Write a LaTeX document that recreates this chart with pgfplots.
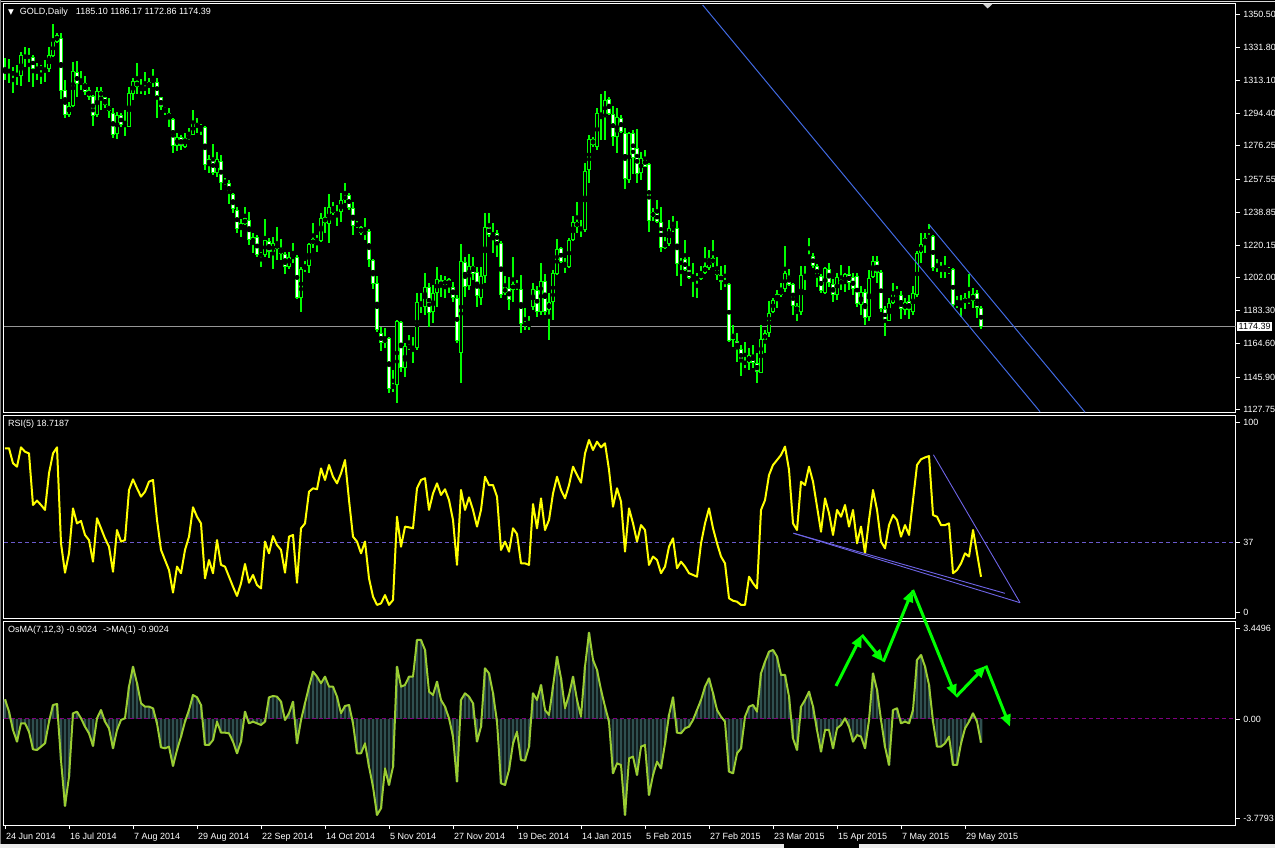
\documentclass[border=0pt]{standalone}
\usepackage{fontspec}
\setmainfont{Liberation Sans}
\newfontfamily\dejavu{DejaVu Sans}
\usepackage{pgfplots}
\pgfplotsset{compat=1.18}
\usepackage{pgfplotstable}
\usetikzlibrary{arrows.meta}

\definecolor{candle}{RGB}{0,255,0}
\definecolor{rsiyel}{RGB}{255,255,0}
\definecolor{lvl}{RGB}{106,90,205}
\definecolor{rsitrend}{RGB}{110,100,230}
\definecolor{osbar}{RGB}{47,79,79}
\definecolor{osline}{RGB}{154,205,50}
\definecolor{zeroline}{RGB}{128,0,128}
\definecolor{trend}{RGB}{65,105,225}
\definecolor{pline}{RGB}{150,150,150}
\newcommand\mtfont{\fontsize{9}{10.8}\selectfont}

% bar index, OHLC, RSI(5), OsMA(7,12,3)
\pgfplotstableread{
i o h l c rsi osma
0 1317.5 1325.5 1313.3 1318.4 86.5 0.748
1 1319.0 1325.0 1311.4 1318.0 86.5 0.278
2 1318.0 1320.8 1305.8 1316.1 78.6 -0.419
3 1315.8 1321.8 1310.5 1316.7 76.8 -0.863
4 1315.6 1329.3 1309.9 1327.4 87.0 -0.166
5 1326.9 1332.1 1320.8 1325.9 84.7 -0.166
6 1326.6 1331.2 1312.4 1326.0 83.8 -0.483
7 1326.5 1327.4 1309.2 1319.3 56.6 -1.155
8 1319.0 1322.7 1313.3 1320.3 58.9 -1.181
9 1320.5 1321.8 1310.9 1319.5 56.6 -1.054
10 1318.8 1324.6 1312.4 1319.7 54.0 -0.927
11 1319.3 1332.1 1318.0 1327.4 73.3 -0.102
12 1326.8 1344.9 1326.5 1335.5 83.8 0.532
13 1334.9 1339.6 1334.0 1338.7 87.0 0.570
14 1337.2 1339.6 1302.8 1307.1 36.4 -1.561
15 1307.7 1313.3 1291.7 1293.6 20.9 -3.310
16 1293.6 1301.1 1292.7 1298.9 31.1 -2.195
17 1298.9 1323.7 1298.3 1318.6 54.8 0.215
18 1317.6 1324.2 1303.9 1310.9 46.9 0.278
19 1312.4 1318.4 1307.7 1310.9 48.2 0.025
20 1311.4 1315.6 1304.9 1306.6 40.8 -0.293
21 1307.7 1309.2 1302.1 1303.9 38.1 -0.546
22 1304.3 1304.9 1287.6 1293.2 26.7 -1.028
23 1293.6 1309.2 1292.7 1307.1 49.6 0.025
24 1307.3 1309.2 1296.4 1303.9 44.3 0.341
25 1303.6 1303.9 1297.4 1299.2 39.0 -0.102
26 1298.7 1303.4 1291.7 1295.9 34.6 -0.356
27 1294.5 1297.4 1280.5 1282.3 21.4 -1.117
28 1282.9 1295.5 1279.9 1293.6 43.4 -0.419
29 1293.6 1294.5 1287.0 1288.0 37.3 -0.039
30 1288.3 1296.4 1282.0 1287.4 38.1 0.025
31 1287.0 1309.2 1286.7 1305.8 64.5 1.229
32 1305.3 1314.6 1302.1 1312.8 70.1 1.990
33 1312.8 1323.1 1305.4 1309.2 65.4 1.356
34 1308.6 1313.7 1305.3 1307.7 61.0 0.595
35 1307.7 1318.0 1304.9 1309.2 63.6 0.468
36 1309.2 1314.6 1305.4 1312.4 68.9 0.468
37 1312.2 1319.5 1309.6 1313.3 69.8 0.405
38 1312.4 1314.6 1292.1 1304.5 48.7 -0.166
39 1303.6 1303.9 1296.4 1297.9 32.9 -1.079
40 1297.4 1298.3 1293.6 1295.9 27.6 -1.117
41 1294.9 1297.4 1287.0 1291.7 22.3 -1.054
42 1291.4 1291.7 1272.4 1276.3 10.4 -1.789
43 1276.3 1283.3 1273.5 1281.0 24.1 -1.181
44 1281.0 1282.3 1273.9 1276.3 20.6 -0.673
45 1275.8 1283.6 1274.8 1280.5 32.9 -0.102
46 1279.9 1286.5 1279.5 1282.3 39.9 0.341
47 1282.3 1296.4 1282.3 1289.5 55.4 0.912
48 1288.9 1291.7 1283.3 1287.0 50.4 0.824
49 1287.4 1288.5 1282.3 1286.1 46.9 0.532
50 1287.0 1287.4 1262.6 1265.4 17.9 -0.990
51 1265.4 1271.1 1260.7 1268.8 27.6 -0.990
52 1269.2 1277.3 1259.8 1261.1 20.6 -0.800
53 1260.7 1273.0 1258.9 1268.8 38.1 -0.102
54 1267.9 1271.1 1251.3 1255.1 25.0 -0.521
55 1256.1 1257.9 1254.2 1255.1 24.1 -0.521
56 1255.1 1257.0 1243.5 1249.5 18.8 -0.546
57 1249.1 1249.8 1238.2 1240.5 13.5 -0.863
58 1240.1 1242.0 1226.9 1229.2 8.6 -1.307
59 1229.2 1234.8 1225.0 1232.6 15.3 -0.863
60 1232.0 1242.0 1231.6 1235.4 25.5 0.278
61 1234.5 1239.1 1220.4 1223.2 15.6 -0.166
62 1221.3 1227.3 1215.7 1224.7 19.7 -0.102
63 1224.7 1226.0 1213.8 1214.7 14.4 -0.166
64 1215.1 1216.6 1207.8 1214.4 12.6 -0.229
65 1214.7 1234.8 1213.8 1223.2 37.3 -0.102
66 1222.6 1224.1 1212.8 1216.6 31.1 0.824
67 1216.2 1224.7 1206.6 1221.3 40.2 0.874
68 1221.3 1230.7 1211.9 1217.9 35.5 0.849
69 1218.5 1223.6 1211.9 1215.1 32.9 0.659
70 1215.3 1216.6 1203.8 1207.8 20.9 -0.039
71 1208.2 1216.2 1206.6 1213.8 39.9 0.215
72 1214.2 1221.7 1210.0 1212.9 40.8 0.659
73 1213.4 1214.7 1189.7 1190.7 15.6 -0.927
74 1190.3 1208.2 1182.8 1206.6 44.3 -0.039
75 1207.0 1211.4 1205.3 1208.2 46.9 0.595
76 1208.7 1221.7 1204.4 1220.7 63.6 1.229
77 1220.7 1232.9 1218.5 1223.6 65.4 1.800
78 1223.6 1226.0 1216.6 1222.8 64.9 1.610
79 1222.6 1238.2 1222.3 1235.4 75.9 1.356
80 1232.6 1241.6 1226.9 1236.3 69.8 1.610
81 1232.2 1248.9 1221.3 1241.6 77.7 1.229
82 1241.0 1244.8 1237.3 1238.6 71.5 1.229
83 1238.6 1242.9 1231.1 1237.8 68.0 0.849
84 1238.8 1249.5 1233.5 1245.7 73.3 0.215
85 1245.7 1255.5 1243.8 1248.2 80.3 0.494
86 1248.5 1249.5 1240.1 1241.0 59.2 0.532
87 1241.0 1244.4 1226.0 1231.3 39.9 -0.166
88 1232.6 1233.9 1229.8 1230.7 37.3 -1.307
89 1230.3 1231.1 1226.0 1226.9 31.1 -1.307
90 1226.0 1235.4 1223.2 1228.2 37.3 -0.927
91 1228.2 1229.2 1208.2 1211.9 17.9 -1.815
92 1211.9 1212.3 1195.4 1198.2 8.3 -2.576
93 1198.8 1202.9 1171.5 1172.5 3.9 -3.654
94 1170.6 1174.4 1160.8 1165.0 4.7 -3.400
95 1165.0 1173.4 1162.1 1167.8 9.1 -1.878
96 1167.8 1168.3 1137.2 1139.2 3.9 -2.512
97 1139.6 1149.9 1137.7 1141.5 6.5 -1.815
98 1141.5 1178.1 1131.2 1177.5 50.4 1.990
99 1177.2 1177.7 1149.0 1150.9 34.6 1.229
100 1150.9 1165.0 1146.2 1163.4 45.2 1.293
101 1163.4 1169.7 1161.2 1162.5 44.8 1.610
102 1162.0 1168.7 1153.7 1162.9 44.3 1.610
103 1162.1 1193.1 1161.2 1188.4 65.4 3.005
104 1187.1 1193.1 1181.9 1186.0 69.8 3.005
105 1185.6 1204.4 1180.9 1196.5 70.7 2.625
106 1196.5 1198.8 1174.4 1181.9 54.0 1.039
107 1182.8 1197.8 1176.2 1193.1 62.7 0.912
108 1193.5 1208.2 1185.6 1201.0 68.0 1.420
109 1200.6 1203.5 1191.3 1196.5 61.9 0.722
110 1197.8 1202.9 1190.3 1200.6 64.9 0.468
111 1201.0 1202.0 1193.1 1197.3 59.2 0.024
112 1196.5 1199.7 1188.4 1190.3 48.7 -0.673
113 1190.3 1192.2 1165.0 1166.5 25.0 -2.386
114 1159.3 1220.9 1142.4 1211.5 64.5 0.722
115 1211.0 1213.4 1191.3 1196.9 54.0 0.976
116 1197.5 1215.3 1195.0 1208.7 60.6 0.849
117 1208.7 1213.8 1200.6 1204.0 54.0 0.595
118 1205.3 1208.2 1185.6 1191.6 45.2 -0.863
119 1190.3 1208.2 1186.6 1203.1 54.0 -0.293
120 1203.1 1238.2 1198.8 1230.7 71.5 1.927
121 1230.7 1238.2 1224.7 1226.0 67.1 1.737
122 1226.9 1232.6 1215.7 1225.6 67.1 0.976
123 1226.9 1228.8 1213.8 1222.2 61.0 -0.102
124 1221.7 1222.3 1190.3 1192.2 32.9 -2.449
125 1193.1 1202.9 1192.2 1196.5 37.3 -2.512
126 1195.9 1202.5 1183.7 1189.4 32.0 -1.941
127 1195.0 1213.4 1188.4 1198.4 44.3 -0.927
128 1198.2 1200.6 1195.0 1195.9 41.3 -0.483
129 1195.4 1203.5 1170.6 1175.9 25.8 -1.561
130 1176.2 1184.7 1172.5 1175.3 25.8 -1.586
131 1174.4 1180.4 1172.5 1176.2 25.0 -1.054
132 1185.3 1199.1 1183.7 1195.4 57.1 0.976
133 1195.0 1197.3 1180.0 1182.4 44.3 0.722
134 1182.8 1210.4 1180.9 1200.1 60.1 1.293
135 1200.1 1203.8 1180.9 1182.4 43.4 0.341
136 1183.7 1193.1 1166.8 1188.1 48.7 0.151
137 1188.1 1206.3 1178.1 1204.4 62.7 1.229
138 1204.0 1223.6 1203.5 1217.9 71.5 2.371
139 1218.5 1219.4 1210.0 1210.6 64.5 1.546
140 1208.7 1212.9 1204.4 1210.6 60.1 0.405
141 1208.2 1224.1 1207.2 1223.2 67.1 0.912
142 1223.2 1236.7 1222.8 1233.1 76.8 1.610
143 1233.1 1244.8 1226.9 1230.7 72.4 0.722
144 1230.1 1234.5 1224.7 1228.4 68.4 0.088
145 1228.8 1266.4 1227.9 1262.2 83.8 1.990
146 1262.6 1282.3 1255.1 1279.9 90.9 3.284
147 1279.9 1281.4 1275.8 1276.7 85.6 2.244
148 1275.8 1297.4 1273.9 1294.9 90.0 1.864
149 1294.5 1305.4 1279.5 1293.0 87.0 1.103
150 1292.7 1307.3 1279.5 1302.1 89.1 0.468
151 1302.4 1303.9 1293.6 1294.0 75.1 -0.102
152 1294.2 1298.7 1276.1 1281.0 55.7 -2.068
153 1281.0 1297.4 1272.0 1292.3 65.4 -1.688
154 1291.7 1293.6 1283.3 1284.2 58.4 -1.751
155 1283.3 1286.1 1251.7 1257.4 32.0 -3.654
156 1257.0 1284.2 1255.5 1283.3 54.8 -1.497
157 1283.3 1285.2 1260.4 1269.2 46.9 -1.434
158 1274.8 1285.5 1255.5 1260.2 37.3 -2.132
159 1260.7 1273.0 1257.0 1269.2 46.0 -1.054
160 1269.2 1273.9 1264.1 1264.5 43.4 -0.990
161 1265.8 1266.4 1227.9 1234.1 25.0 -2.893
162 1236.3 1241.0 1233.9 1238.8 29.4 -2.132
163 1238.6 1245.7 1232.9 1233.5 27.6 -1.624
164 1233.5 1242.0 1216.6 1218.5 20.6 -1.878
165 1218.5 1224.7 1217.9 1221.9 24.1 -0.927
166 1220.9 1234.5 1219.8 1229.8 34.6 0.151
167 1230.7 1236.7 1227.9 1228.8 39.0 0.824
168 1230.1 1234.1 1203.1 1209.6 23.2 -0.521
169 1211.4 1212.9 1197.3 1209.1 26.7 -0.546
170 1212.3 1223.2 1205.9 1206.3 24.1 -0.356
171 1206.6 1213.4 1201.0 1201.6 20.6 -0.293
172 1201.6 1210.0 1191.3 1203.5 19.7 -0.039
173 1202.5 1204.4 1190.3 1200.6 18.8 0.341
174 1201.0 1208.5 1200.6 1204.8 36.4 0.722
175 1204.4 1219.4 1204.0 1208.7 46.9 1.229
176 1207.2 1217.5 1206.3 1212.9 54.8 1.546
177 1212.9 1223.2 1208.2 1210.0 44.3 0.976
178 1206.3 1213.8 1200.6 1203.5 36.4 0.341
179 1203.5 1208.5 1195.0 1199.7 29.4 0.088
180 1200.1 1209.1 1196.9 1198.8 25.8 -0.102
181 1198.4 1199.1 1165.9 1166.5 7.4 -2.005
182 1166.8 1175.3 1163.1 1170.2 6.1 -2.068
183 1166.5 1170.6 1154.6 1161.6 5.6 -1.307
184 1161.6 1164.0 1146.6 1154.6 3.9 -1.117
185 1154.6 1165.9 1150.9 1153.3 3.9 0.088
186 1153.7 1162.1 1149.9 1158.4 18.8 0.468
187 1158.4 1164.0 1150.9 1154.1 15.3 0.532
188 1154.1 1159.3 1142.4 1149.0 12.6 0.278
189 1148.4 1175.3 1148.1 1167.2 54.0 1.737
190 1166.8 1172.5 1159.3 1170.6 59.2 2.181
191 1170.6 1189.0 1168.7 1182.2 72.4 2.561
192 1182.8 1190.3 1181.9 1189.4 77.7 2.625
193 1189.4 1195.0 1184.7 1192.6 80.3 2.371
194 1192.2 1199.1 1191.3 1195.0 83.0 1.673
195 1195.4 1219.8 1194.1 1204.4 87.4 1.673
196 1203.1 1206.6 1197.3 1197.8 75.1 0.849
197 1198.4 1199.1 1180.9 1186.0 46.9 -0.737
198 1182.8 1187.5 1177.7 1186.0 43.4 -1.181
199 1182.8 1208.5 1180.9 1203.5 68.9 0.468
200 1202.5 1208.5 1195.0 1203.5 67.1 0.722
201 1214.4 1224.1 1212.8 1213.4 76.8 1.039
202 1214.2 1215.7 1207.2 1208.7 68.9 0.468
203 1208.7 1209.7 1196.5 1202.1 55.7 -0.419
204 1203.1 1204.0 1193.1 1194.6 42.5 -1.244
205 1193.5 1208.2 1192.8 1207.2 60.1 -0.419
206 1206.6 1210.0 1196.9 1198.8 52.2 -0.419
207 1198.4 1201.0 1188.4 1192.2 40.8 -1.117
208 1192.2 1204.4 1189.4 1202.1 54.0 -0.356
209 1200.6 1209.1 1195.0 1198.2 50.4 -0.229
210 1198.8 1204.8 1194.1 1203.8 56.6 0.024
211 1204.0 1208.7 1195.0 1198.8 45.2 -0.293
212 1202.5 1204.8 1192.2 1195.4 54.0 -0.863
213 1202.9 1204.4 1185.6 1186.9 36.4 -0.610
214 1186.6 1197.5 1180.9 1193.7 45.2 -0.673
215 1193.7 1195.4 1175.3 1179.0 31.1 -1.117
216 1180.0 1206.3 1177.7 1201.6 48.7 -0.039
217 1202.2 1214.2 1201.6 1211.5 64.5 1.737
218 1211.5 1214.2 1198.8 1204.4 54.0 1.103
219 1204.9 1206.3 1182.8 1184.1 37.3 -0.039
220 1184.1 1186.0 1169.1 1177.7 33.7 -1.054
221 1177.7 1190.3 1177.5 1187.5 46.0 -1.751
222 1187.5 1199.1 1187.1 1192.8 51.3 0.341
223 1192.8 1197.3 1191.3 1191.8 48.7 0.405
224 1192.0 1194.6 1178.5 1184.1 39.9 -0.166
225 1183.7 1190.3 1180.9 1188.4 46.0 -0.102
226 1188.8 1192.2 1178.7 1183.7 40.8 -0.166
227 1182.8 1197.3 1180.9 1193.5 59.2 0.341
228 1192.2 1217.2 1191.3 1215.7 77.7 2.244
229 1215.7 1226.9 1210.0 1220.7 80.7 2.434
230 1221.3 1226.9 1215.7 1224.1 81.7 1.990
231 1224.5 1232.2 1224.1 1225.4 82.4 1.293
232 1225.4 1226.0 1205.9 1207.2 51.3 -0.102
233 1209.1 1212.3 1205.3 1207.8 50.4 -1.054
234 1208.5 1211.0 1201.6 1206.3 46.0 -1.054
235 1205.9 1214.2 1201.6 1206.6 46.0 -0.927
236 1206.6 1208.2 1204.0 1205.3 46.9 -0.673
237 1206.6 1207.2 1185.6 1186.6 20.6 -1.751
238 1186.6 1191.6 1184.7 1187.5 22.3 -1.751
239 1188.4 1192.2 1180.0 1187.5 25.8 -0.927
240 1187.5 1193.5 1184.1 1190.3 31.1 -0.356
241 1189.4 1204.0 1187.1 1188.8 29.4 -0.102
242 1189.0 1195.9 1184.7 1192.8 43.4 0.215
243 1193.1 1195.0 1179.0 1184.7 31.1 -0.102
244 1185.10 1186.17 1172.86 1174.39 18.72 -0.9024
}\gold

\pgfplotsset{
  mt4/.style={
    scale only axis, anchor=north west, width=1231.7pt,
    xmin=-0.25, xmax=307.675,
    axis line style={white, line width=1pt},
    xtick=\empty, ytick pos=right, tick align=outside,
    major tick length=4pt, tick style={white, line width=0.8pt},
    yticklabel style={font=\mtfont, text=white},
    xticklabel style={font=\mtfont, text=white},
  },
  ebar/.style 2 args={only marks, mark=none, forget plot,
    error bars/.cd, y dir=both, y explicit, error mark=none,
    error bar style={draw=#1, line width=#2}},
}

\begin{document}
\begin{tikzpicture}
\useasboundingbox (0,0) rectangle (1275pt,848pt);
\fill[black] (0,0) rectangle (1275pt,848pt);
\draw[white!85!black, line width=1pt] (0,846.7pt) -- (1275pt,846.7pt);
\draw[gray, line width=1pt] (0.5pt,0) -- (0.5pt,848pt);
\fill[white!92!black] (0,0) rectangle (784pt,4pt);
\fill[white!92!black] (859pt,0) rectangle (1275pt,4pt);

% price panel
\begin{axis}[mt4, at={(4pt,844.2pt)}, height=408.8pt,
  ymin=1125.89, ymax=1356.25,
  ytick={1127.75,1145.90,1164.60,1183.30,1202.00,1220.15,1238.85,1257.55,1276.25,1294.40,1313.10,1331.80,1350.50},
  yticklabels={1127.75,1145.90,1164.60,1183.30,1202.00,1220.15,1238.85,1257.55,1276.25,1294.40,1313.10,1331.80,1350.50}]
\addplot[pline, line width=1pt] coordinates {(-0.25,1174.39) (307.675,1174.39)};
% wicks
\addplot[ebar={candle}{1.2pt}] table[x=i, y expr={(\thisrow{h}+\thisrow{l})/2}, y error expr={(\thisrow{h}-\thisrow{l})/2}] {\gold};
% bodies
\addplot[ebar={candle}{3.4pt}] table[x=i, y expr={(\thisrow{o}+\thisrow{c})/2}, y error expr={max(abs(\thisrow{o}-\thisrow{c})/2,0.3)}] {\gold};
% bull: hollow, bear: white
\addplot[ebar={black}{1.3pt}] table[x=i, y expr={(\thisrow{c}-\thisrow{o}>1.2) ? (\thisrow{o}+\thisrow{c})/2 : nan}, y error expr={abs(\thisrow{o}-\thisrow{c})/2-0.56}] {\gold};
\addplot[ebar={white}{1.3pt}] table[x=i, y expr={(\thisrow{o}-\thisrow{c}>1.2) ? (\thisrow{o}+\thisrow{c})/2 : nan}, y error expr={abs(\thisrow{o}-\thisrow{c})/2-0.56}] {\gold};
% channel
\addplot[trend, line width=1pt] coordinates {(174.4,1355.6) (258.75,1126.4)};
\addplot[trend, line width=1pt] coordinates {(231.1,1231.6) (270,1126.1)};
\end{axis}

% RSI panel
\begin{axis}[mt4, at={(4pt,432.8pt)}, height=203.8pt,
  ymin=-3.53, ymax=103.96, ytick={0,37,100}, yticklabels={0,37,100}]
\addplot[lvl, line width=1pt, dash pattern=on 4pt off 3pt] coordinates {(-0.25,37) (307.675,37)};
\addplot[rsiyel, line width=2pt, line join=round] table[x=i, y=rsi] {\gold};
\addplot[rsitrend, line width=0.9pt] coordinates {(197.1,41.7) (250,10.0)};
\addplot[rsitrend, line width=0.9pt] coordinates {(197.1,41.7) (253.75,5.06)};
\addplot[rsitrend, line width=0.9pt] coordinates {(232.1,83.1) (253.75,5.06)};
\end{axis}

% OsMA panel
\begin{axis}[mt4, at={(4pt,226.3pt)}, height=203.5pt, clip=false,
  ymin=-4.042, ymax=3.701, ytick={-3.7793,0,3.4496}, yticklabels={-3.7793,0.00,3.4496},
  xtick={0,16,...,240}, xtick pos=bottom,
  xticklabels={24 Jun 2014,16 Jul 2014,7 Aug 2014,29 Aug 2014,22 Sep 2014,14 Oct 2014,5 Nov 2014,27 Nov 2014,19 Dec 2014,14 Jan 2015,5 Feb 2015,27 Feb 2015,23 Mar 2015,15 Apr 2015,7 May 2015,29 May 2015},
  xticklabel style={anchor=north west, xshift=-2.5pt}]
\addplot[ybar, bar width=2.8pt, fill=osbar, draw=none, forget plot] table[x=i, y=osma] {\gold};
\addplot[zeroline, line width=1pt, dash pattern=on 4pt off 3pt] coordinates {(-0.25,0) (307.675,0)};
\addplot[osline, line width=2pt, line join=round] table[x=i, y=osma] {\gold};
\begin{scope}[candle, line width=3pt, -{Triangle[length=12pt,width=10pt]}]
\draw (axis cs:207.75,1.254) -- (axis cs:214.2,3.195);
\draw (axis cs:214.2,3.195) -- (axis cs:219.6,2.179);
\draw (axis cs:219.6,2.179) -- (axis cs:226.9,4.907);
\draw (axis cs:226.9,4.907) -- (axis cs:237.75,0.847);
\draw (axis cs:237.75,0.847) -- (axis cs:245.2,2.027);
\draw (axis cs:245.2,2.027) -- (axis cs:251.25,-0.295);
\end{scope}
\end{axis}

% panel captions
\node[anchor=west, text=white, font=\mtfont, inner sep=0pt] at (8pt,836.3pt)
  {{\dejavu\fontsize{7.5}{8}\selectfont ▼}\hspace{6pt}GOLD,Daily\hspace{8pt}1185.10 1186.17 1172.86 1174.39};
\node[anchor=west, text=white, font=\mtfont, inner sep=0pt] at (8pt,423.7pt) {RSI(5) 18.7187};
\node[anchor=west, text=white, font=\mtfont, inner sep=0pt] at (8pt,217.7pt) {OsMA(7,12,3) -0.9024\hspace{6pt}->MA(1) -0.9024};
\node[anchor=west, fill=white, text=black, font=\mtfont, inner xsep=1.5pt, inner ysep=1.5pt] at (1237pt,521.3pt) {1174.39};
\fill[white!65!gray] (982.7pt,844.3pt) -- (992.7pt,844.3pt) -- (987.7pt,839.5pt) -- cycle;
\end{tikzpicture}
\end{document}
